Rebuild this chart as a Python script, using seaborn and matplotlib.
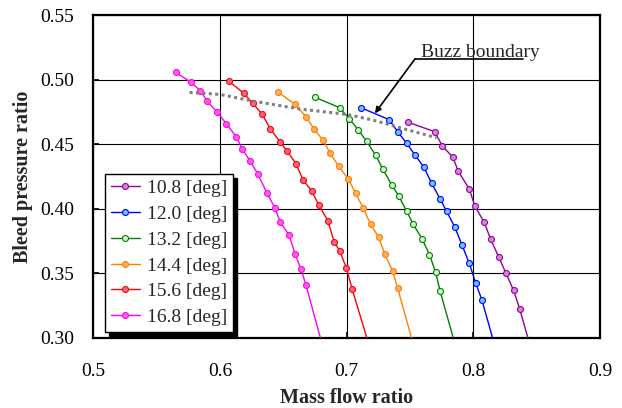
import matplotlib
matplotlib.use("Agg")
import matplotlib.pyplot as plt
import seaborn as sns
import numpy as np
import pandas as pd

# =========================
# DATA
# =========================
labels = ["10.8 [deg]", "12.0 [deg]", "13.2 [deg]", "14.4 [deg]", "15.6 [deg]", "16.8 [deg]"]

x_108 = [0.7481, 0.7695, 0.7755, 0.7839, 0.7881, 0.7968, 0.8013, 0.8086, 0.8137,
         0.8200, 0.8257, 0.8318, 0.8365, 0.846]
y_108 = [0.4671, 0.4596, 0.4487, 0.4397, 0.4290, 0.4152, 0.4018, 0.3894, 0.3762,
         0.3627, 0.3501, 0.3367, 0.3225, 0.290]

x_120 = [0.7113, 0.7336, 0.7403, 0.7474, 0.7541, 0.7610, 0.7671, 0.7736, 0.7789,
         0.7855, 0.7910, 0.7968, 0.8018, 0.8068, 0.818]
y_120 = [0.4782, 0.4689, 0.4596, 0.4506, 0.4413, 0.4321, 0.4197, 0.4078, 0.3980,
         0.3854, 0.3720, 0.3576, 0.3426, 0.3292, 0.290]

x_132 = [0.6747, 0.6945, 0.7021, 0.7092, 0.7158, 0.7229, 0.7287, 0.7355, 0.7413,
         0.7474, 0.7526, 0.7594, 0.7654, 0.7702, 0.7738, 0.787]
y_132 = [0.4864, 0.4782, 0.4696, 0.4611, 0.4521, 0.4413, 0.4304, 0.4185, 0.4095,
         0.3979, 0.3878, 0.3768, 0.3644, 0.3509, 0.3360, 0.290]

x_144 = [0.6455, 0.6592, 0.6679, 0.6740, 0.6815, 0.6868, 0.6937, 0.7013, 0.7071,
         0.7131, 0.7189, 0.7253, 0.7302, 0.7363, 0.7403, 0.754]
y_144 = [0.4906, 0.4808, 0.4712, 0.4620, 0.4529, 0.4431, 0.4328, 0.4229, 0.4119,
         0.4005, 0.3878, 0.3778, 0.3646, 0.3517, 0.3383, 0.290]

x_156 = [0.6069, 0.6187, 0.6260, 0.6334, 0.6397, 0.6476, 0.6529, 0.6600, 0.6655,
         0.6724, 0.6780, 0.6852, 0.6902, 0.6945, 0.6997, 0.7044, 0.719]
y_156 = [0.4988, 0.4895, 0.4816, 0.4730, 0.4619, 0.4514, 0.4448, 0.4348, 0.4224,
         0.4136, 0.4028, 0.3906, 0.3741, 0.3674, 0.3542, 0.3375, 0.290]

x_168 = [0.5650, 0.5770, 0.5845, 0.5900, 0.5980, 0.6050, 0.6130, 0.6174, 0.6237,
         0.6298, 0.6371, 0.6434, 0.6476, 0.6545, 0.6594, 0.6639, 0.6679, 0.682]
y_168 = [0.5056, 0.4980, 0.4913, 0.4831, 0.4746, 0.4658, 0.4555, 0.4464, 0.4371,
         0.4270, 0.4121, 0.4005, 0.3894, 0.3796, 0.3646, 0.3534, 0.3408, 0.290]

# buzz boundary
x_buzz = [0.576, 0.600, 0.625, 0.663, 0.700, 0.721, 0.742, 0.771]
y_buzz = [0.4900, 0.4885, 0.4835, 0.4772, 0.4730, 0.4686, 0.4627, 0.4549]

x_ticks = [0.5, 0.6, 0.7, 0.8, 0.9]
y_ticks = [0.30, 0.35, 0.40, 0.45, 0.50, 0.55]

# =========================
# STYLE
# =========================
sns.set_style("ticks")
plt.rcParams["font.family"] = ["Liberation Serif", "DejaVu Serif"]

line_colors = ["#990099", "#0000ff", "#008000", "#ff8000", "#ff0000", "#ff00ff"]
face_colors = ["#cc88dd", "#66ccff", "#ccffcc", "#ffb060", "#ff6688", "#ff66cc"]

series = [(x_108, y_108), (x_120, y_120), (x_132, y_132),
          (x_144, y_144), (x_156, y_156), (x_168, y_168)]

fig = plt.figure(figsize=(6.22, 4.08), dpi=100)
ax = fig.add_axes([0.15, 0.1723, 0.8146, 0.7909])

for (xs, ys), lab, lc, fc in zip(series, labels, line_colors, face_colors):
    df = pd.DataFrame({"x": xs, "y": ys})
    sns.lineplot(data=df, x="x", y="y", sort=False, ax=ax, color=lc, lw=1.0,
                 marker="o", markersize=4.3, markerfacecolor=fc,
                 markeredgecolor=lc, markeredgewidth=0.8, label=lab, zorder=3)

ax.plot(x_buzz, y_buzz, color="#808080", lw=2.2, linestyle=(0, (1, 1.1)),
        dash_capstyle="butt", zorder=4)

# annotation
txt_x, txt_y = 0.7586, 0.5172
line_start = (0.7539, 0.5159)
line_end_x = 0.8392
arrow_tip = (0.7223, 0.4738)
ax.text(txt_x, txt_y, "Buzz boundary", fontsize=14, ha="left", va="baseline", zorder=5)
ax.plot([line_start[0], line_end_x], [line_start[1], line_start[1]],
        color="black", lw=1.2, zorder=5)
ax.annotate("", xy=arrow_tip, xytext=line_start,
            arrowprops=dict(arrowstyle="-|>", color="black", lw=1.2,
                            mutation_scale=9, shrinkA=0, shrinkB=0), zorder=5)

# axes
ax.set_xlim(0.5, 0.9)
ax.set_ylim(0.30, 0.55)
ax.set_xticks(x_ticks)
ax.set_yticks(y_ticks)
ax.set_xticklabels([f"{v:.1f}" for v in x_ticks])
ax.set_yticklabels([f"{v:.2f}" for v in y_ticks])
ax.tick_params(axis="both", direction="in", length=4, width=1.2, labelsize=14,
               colors="black")
ax.tick_params(axis="x", pad=18)
ax.tick_params(axis="y", pad=14)
ax.grid(True, color="black", lw=0.8)
ax.set_axisbelow(True)
for sp in ax.spines.values():
    sp.set_linewidth(1.6)
    sp.set_color("black")
    sp.set_visible(True)

ax.set_xlabel("Mass flow ratio", fontsize=14.5, fontweight="bold", labelpad=6)
ax.set_ylabel("Bleed pressure ratio", fontsize=14.5, fontweight="bold", labelpad=5)

leg = ax.legend(loc="lower left", bbox_to_anchor=(0.023, 0.018), borderaxespad=0,
                fontsize=14, frameon=True, fancybox=False, framealpha=1,
                edgecolor="black", handlelength=1.5, handletextpad=0.35,
                labelspacing=0.42, borderpad=0.3,
                shadow={"ox": 3, "oy": -3, "color": "black", "alpha": 1})
leg.get_frame().set_linewidth(1.0)
leg.set_zorder(10)

fig.savefig("out.png", dpi=100)
